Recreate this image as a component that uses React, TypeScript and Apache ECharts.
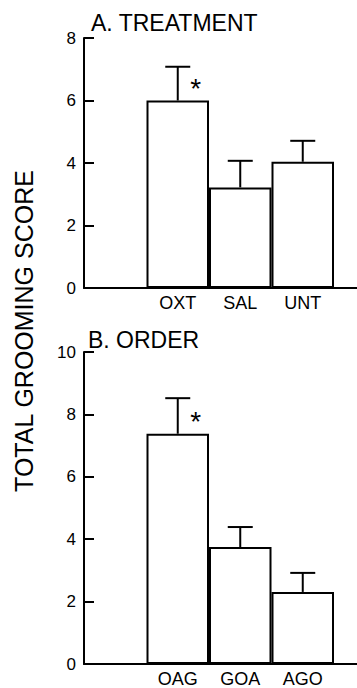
import React, { useEffect, useRef } from "react";
import * as echarts from "echarts";

const catsA = ["OXT", "SAL", "UNT"];
const meansA = [6.0, 3.22, 4.04];
const errA = [1.08, 0.85, 0.67];
const sigA = ["*", "", ""];

const catsB = ["OAG", "GOA", "AGO"];
const meansB = [7.38, 3.75, 2.31];
const errB = [1.14, 0.64, 0.61];
const sigB = ["*", "", ""];

const maxA = 8;
const maxB = 10;
const tickStep = 2;

const FONT = "'Liberation Sans', Arial, sans-serif";

export default function App() {
  const ref = useRef<HTMLDivElement>(null);
  useEffect(() => {
    if (!ref.current) return;
    const chart = echarts.init(ref.current, undefined, { renderer: "svg" });
    const slotOffset = 1.5;
    const xMax = 4.368;

    const makeX = (gridIndex: number, cats: string[]) => ({
      type: "value",
      gridIndex,
      min: 0,
      max: xMax,
      splitLine: { show: false },
      axisTick: { show: false },
      axisLine: { show: true, lineStyle: { color: "#000", width: 2 } },
      axisLabel: {
        customValues: cats.map((_, i) => i + slotOffset),
        formatter: (v: number) => cats[Math.round(v - slotOffset)] ?? "",
        fontSize: 18,
        color: "#000",
        fontFamily: FONT,
        margin: 6,
      },
    });
    const makeY = (gridIndex: number, max: number) => ({
      type: "value",
      gridIndex,
      min: 0,
      max,
      interval: tickStep,
      splitLine: { show: false },
      axisLine: { show: true, lineStyle: { color: "#000", width: 2 } },
      axisTick: { show: true, inside: true, length: 10, lineStyle: { color: "#000", width: 2 } },
      axisLabel: { fontSize: 17, color: "#000", fontFamily: FONT, margin: 8 },
    });

    const barSeries = (idx: number, means: number[]) => ({
      type: "bar",
      xAxisIndex: idx,
      yAxisIndex: idx,
      barWidth: 62.5,
      data: means.map((m, i) => [i + slotOffset, m]),
      itemStyle: { color: "#fff", borderColor: "#000", borderWidth: 2 },
      z: 2,
    });

    const errSeries = (idx: number, means: number[], errs: number[], sig: string[]) => ({
      type: "custom",
      xAxisIndex: idx,
      yAxisIndex: idx,
      z: 3,
      data: means.map((m, i) => [i + slotOffset, m, errs[i]]),
      renderItem: (params: any, api: any) => {
        const x = api.value(0);
        const m = api.value(1);
        const e = api.value(2);
        const p0 = api.coord([x, m]);
        const p1 = api.coord([x, m + e]);
        const children: any[] = [
          { type: "line", shape: { x1: p0[0], y1: p0[1], x2: p1[0], y2: p1[1] }, style: { stroke: "#000", lineWidth: 2 } },
          { type: "line", shape: { x1: p1[0] - 12.5, y1: p1[1], x2: p1[0] + 12.5, y2: p1[1] }, style: { stroke: "#000", lineWidth: 2 } },
        ];
        const s = sig[params.dataIndex];
        if (s) {
          children.push({
            type: "text",
            x: p0[0] + 18,
            y: p0[1] - 12,
            style: { text: s, fontSize: 28, fontFamily: FONT, fill: "#000", align: "center", verticalAlign: "middle" },
          });
        }
        return { type: "group", children };
      },
    });

    chart.setOption({
      animation: false,
      title: [
        { text: "A. TREATMENT", left: 86, top: 6, textStyle: { fontSize: 23, fontWeight: "normal", color: "#000", fontFamily: FONT } },
        { text: "B. ORDER", left: 83, top: 323, textStyle: { fontSize: 23, fontWeight: "normal", color: "#000", fontFamily: FONT } },
      ],
      grid: [
        { left: 84, top: 38, height: 250, right: 0 },
        { left: 84, top: 352, height: 312.5, right: 0 },
      ],
      xAxis: [makeX(0, catsA), makeX(1, catsB)],
      yAxis: [makeY(0, maxA), makeY(1, maxB)],
      series: [
        barSeries(0, meansA),
        errSeries(0, meansA, errA, sigA),
        barSeries(1, meansB),
        errSeries(1, meansB, errB, sigB),
      ],
      graphic: [
        {
          type: "text",
          x: 24,
          y: 331,
          rotation: Math.PI / 2,
          style: {
            text: "TOTAL GROOMING SCORE",
            fontSize: 25,
            fontFamily: FONT,
            fill: "#000",
            align: "center",
            verticalAlign: "middle",
          },
        },
      ],
    });
    return () => chart.dispose();
  }, []);
  return (
    <div
      ref={ref}
      style={{ position: "absolute", left: 0, top: 0, width: 357, height: 688, background: "#fff" }}
    />
  );
}
